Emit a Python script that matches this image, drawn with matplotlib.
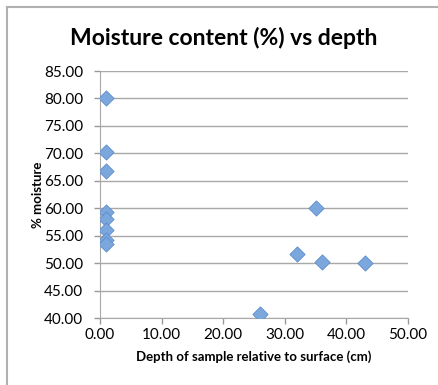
import matplotlib.pyplot as plt
from matplotlib.lines import Line2D

depth = [1, 1, 1, 1, 1, 1, 1, 1, 35, 32, 36, 43, 26]
moisture = [80.0, 70.3, 66.8, 59.3, 58.0, 56.0, 54.2, 53.4, 60.0, 51.6, 50.2, 50.0, 40.7]

x_ticks = [0, 10, 20, 30, 40, 50]
y_ticks = [40, 45, 50, 55, 60, 65, 70, 75, 80, 85]

plt.rcParams['font.family'] = ['Lato', 'DejaVu Sans']

fig = plt.figure(figsize=(4.38, 3.85), dpi=100)
fig.patch.set_facecolor('white')
ax = fig.add_axes([100 / 438, 1 - 318 / 385, 308 / 438, 247 / 385])

ax.scatter(depth, moisture, marker='D', s=60, color='#7ba7dd', edgecolors='#5b8ccc',
           linewidths=0.6, zorder=3)

ax.set_xlim(0, 50)
ax.set_ylim(40, 85)
ax.set_xticks(x_ticks)
ax.set_yticks(y_ticks)
ax.set_xticklabels([f'{v:.2f}' for v in x_ticks])
ax.set_yticklabels([f'{v:.2f}' for v in y_ticks])
ax.tick_params(labelsize=11, colors='#999999', labelcolor='black', length=4, width=1)
ax.tick_params(axis='y', pad=8)
ax.tick_params(axis='x', pad=3)

ax.grid(axis='y', color='#a8a8a8', linewidth=1)
ax.set_axisbelow(True)
for side in ['top', 'right']:
    ax.spines[side].set_visible(False)
for side in ['left', 'bottom']:
    ax.spines[side].set_color('#a8a8a8')

fig.text(224 / 438, 1 - 38 / 385, 'Moisture content (%) vs depth', fontsize=16.5,
         fontweight='bold', ha='center', va='center')
ax.set_xlabel('Depth of sample relative to surface (cm)', fontsize=9.5, fontweight='bold',
              labelpad=6)
ax.set_ylabel('% moisture', fontsize=9.5, fontweight='bold', labelpad=0)

# chart frame along the top and left edge
fig.add_artist(Line2D([6.5 / 438, 1], [1 - 6.5 / 385, 1 - 6.5 / 385], color='#b0b0b0', lw=1.5))
fig.add_artist(Line2D([6.5 / 438, 6.5 / 438], [0, 1 - 6.5 / 385], color='#b0b0b0', lw=1.5))

fig.savefig('out.png', dpi=100)
